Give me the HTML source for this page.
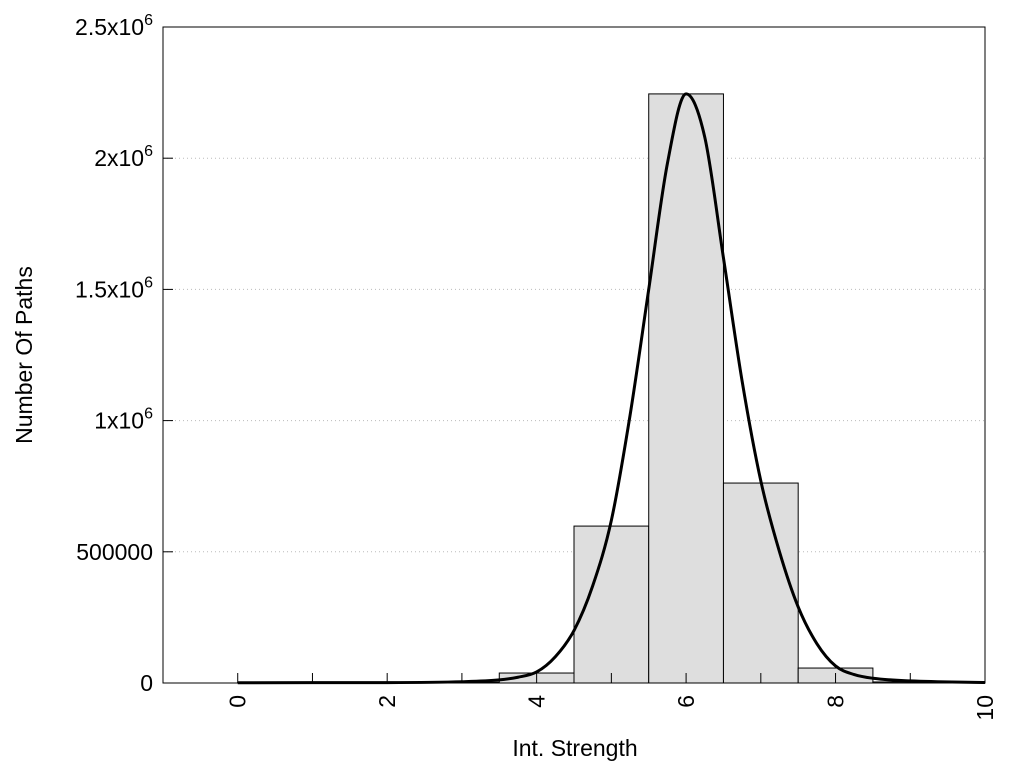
<!DOCTYPE html>
<html><head><meta charset="utf-8"><style>
body{margin:0;background:#fff}
svg text{font-family:"Liberation Sans",sans-serif;fill:#000}
</style></head><body>
<svg id="chart" width="1024" height="768" xmlns="http://www.w3.org/2000/svg"></svg>
<script>
const binCenters=[0,1,2,3,4,5,6,7,8,9];
const binCounts=[2000,1500,2000,3000,38000,598000,2245000,762000,57000,4000];
const curveX=[0,1,2,3,3.5,3.75,4,4.25,4.5,4.75,5,5.25,5.5,5.75,6,6.25,6.5,6.75,7,7.25,7.5,7.75,8,8.25,8.5,9,10];
const curveY=[1000,1200,1500,5000,12000,22000,42000,100000,200000,370000,620000,1020000,1500000,1980000,2245000,2080000,1620000,1150000,770000,500000,290000,150000,65000,32000,18000,8000,2000];
const yTicks=[0,500000,1000000,1500000,2000000,2500000];
const yTickLabels=["0","500000","1x10|6","1.5x10|6","2x10|6","2.5x10|6"];
const xTicks=[0,2,4,6,8,10];
const NS="http://www.w3.org/2000/svg";
const svg=document.getElementById('chart');
const L=163,R=985,T=27,B=683,xmin=-1,xmax=10,ymax=2500000;
const sx=v=>L+(v-xmin)/(xmax-xmin)*(R-L);
const sy=v=>B-v/ymax*(B-T);
function mk(tag,attrs,parent){const e=document.createElementNS(NS,tag);for(const k in attrs)e.setAttribute(k,attrs[k]);(parent||svg).appendChild(e);return e;}
yTicks.forEach((v,i)=>{
  if(i>0&&i<yTicks.length-1){const g=mk('line',{x1:L,x2:R,y1:sy(v),y2:sy(v),stroke:'#bbb','stroke-width':1,'stroke-dasharray':'1,3'});
  
  }
  const t=mk('text',{x:L-10,y:sy(v)+8,'text-anchor':'end','font-size':23});
  
  
  const parts=yTickLabels[i].split('|');
  t.textContent=parts[0];
  if(parts[1]){const s=mk('tspan',{dy:-10,'font-size':16},t);s.textContent=parts[1];}
  const tk=mk('line',{x1:L,x2:L+10,y1:sy(v),y2:sy(v),stroke:'#000'});
  
  
});
binCenters.forEach((c,i)=>{
  const r=mk('rect',{x:sx(Math.max(0,c-0.5)),y:sy(binCounts[i]),width:sx(c+0.5)-sx(Math.max(0,c-0.5)),height:B-sy(binCounts[i]),fill:'#dedede',stroke:'#000','stroke-width':1});
  
  
});
for(let v=0;v<=10;v++){
  const tk=mk('line',{x1:sx(v),x2:sx(v),y1:B,y2:B-10,stroke:'#000'});
  
  
}
xTicks.forEach(v=>{
  const t=mk('text',{x:0,y:0,'font-size':23,'text-anchor':'end',transform:`translate(${sx(v)+8},${B+12}) rotate(-90)`});
  
  
  t.textContent=v;
});
const P=curveX.map((x,i)=>[sx(x),sy(curveY[i])]);
const n=P.length,dl=[],m=[];
for(let i=0;i<n-1;i++)dl.push((P[i+1][1]-P[i][1])/(P[i+1][0]-P[i][0]));
for(let i=0;i<n;i++){
  if(i===0)m.push(dl[0]);else if(i===n-1)m.push(dl[n-2]);
  else m.push(dl[i-1]*dl[i]<=0?0:(dl[i-1]+dl[i])/2);
}
for(let i=0;i<n-1;i++){
  if(dl[i]===0){m[i]=0;m[i+1]=0;continue;}
  const a=m[i]/dl[i],b=m[i+1]/dl[i],s=a*a+b*b;
  if(s>9){const t=3/Math.sqrt(s);m[i]=t*a*dl[i];m[i+1]=t*b*dl[i];}
}
let d=`M${P[0][0]},${P[0][1]}`;
for(let i=0;i<n-1;i++){
  const h=(P[i+1][0]-P[i][0])/3;
  d+=` C${P[i][0]+h},${P[i][1]+m[i]*h} ${P[i+1][0]-h},${P[i+1][1]-m[i+1]*h} ${P[i+1][0]},${P[i+1][1]}`;
}
const cv=mk('path',{d:d,fill:'none',stroke:'#000','stroke-width':3});


const fr=mk('rect',{x:L,y:T,width:R-L,height:B-T,fill:'none',stroke:'#000','stroke-width':1});


const xt=mk('text',{x:575,y:756,'text-anchor':'middle','font-size':23});


xt.textContent='Int. Strength';
const yt=mk('text',{x:0,y:0,'text-anchor':'middle','font-size':23,transform:'translate(32,355) rotate(-90)'});


yt.textContent='Number Of Paths';
</script>
</body></html>
